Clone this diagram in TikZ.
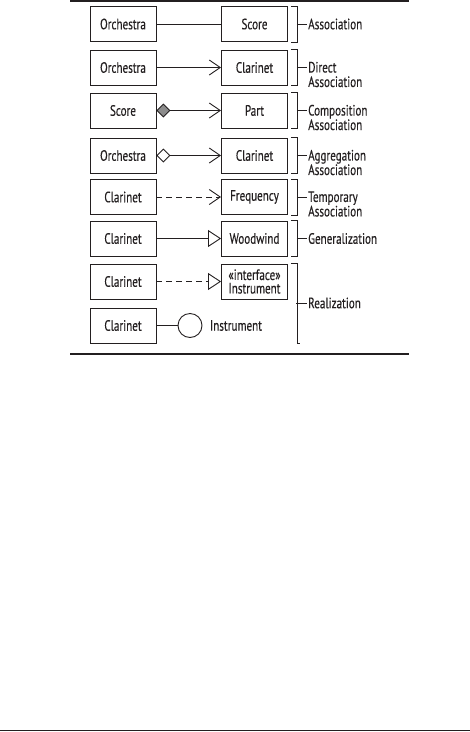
\documentclass[tikz,border=0pt]{standalone}
\usepackage{fontspec}
\usetikzlibrary{arrows.meta}
\newfontfamily\dfont{PT Sans}[FakeStretch=0.74,FakeBold=0.3]
\definecolor{ink}{HTML}{231F20}
\begin{document}
\begin{tikzpicture}[x=1pt,y=-1pt,
  every node/.style={font=\dfont\fontsize{15}{14.5}\selectfont, text=ink},
  cls/.style={draw=ink, line width=0.9pt, minimum width=66pt, minimum height=35pt, inner sep=0pt, align=center},
  conn/.style={draw=ink, line width=0.9pt},
  lbl/.style={anchor=west, align=left, inner sep=1pt},
  brk/.style={draw=ink, line width=0.9pt},
  vee/.style={-{Straight Barb[length=11pt,width=15pt,line width=0.9pt]}},
  tri/.style={-{Triangle[open,length=13pt,width=17pt,line width=0.9pt,fill=white]}},
  compvee/.style={{Diamond[length=14pt,width=14pt,fill=gray!90,line width=0.9pt]}-{Straight Barb[length=11pt,width=15pt,line width=0.9pt]}},
  aggrvee/.style={{Diamond[open,length=14pt,width=14pt,fill=white,line width=0.9pt]}-{Straight Barb[length=11pt,width=15pt,line width=0.9pt]}},
  frame/.style={draw=ink, line width=1.6pt}]
\useasboundingbox (0,0) rectangle (470,732);
% frame lines
\coordinate (ft1) at (70,1);
\coordinate (ft2) at (409,1);
\coordinate (fb1) at (70,354);
\coordinate (fb2) at (409,354);
\coordinate (pb1) at (0,730.5);
\coordinate (pb2) at (470,730.5);
\draw[frame] (ft1) -- (ft2);
\draw[frame] (fb1) -- (fb2);
\draw[frame] (pb1) -- (pb2);

% rows
\foreach \i/\y/\a/\b in {1/24/Orchestra/Score, 2/67.5/Orchestra/Clarinet, 3/110.5/Score/Part, 4/155.5/Orchestra/Clarinet, 5/197/Clarinet/Frequency, 6/238.5/Clarinet/Woodwind}{
  \node[cls] (a\i) at (123,\y) {\a};
  \node[cls] (b\i) at (254.5,\y) {\b};
}
\node[cls] (a7) at (123,281.5) {Clarinet};
\node[cls] (b7) at (254.5,281.5) {«interface»\\[-1pt]Instrument};
\node[cls] (a8) at (123,325.5) {Clarinet};
\node[draw=ink, line width=0.9pt, circle, minimum size=24pt, inner sep=0pt] (c8) at (190,325.5) {};
\node[inner sep=1pt] (t8) at (236,325.5) {Instrument};

% connectors
\draw[conn] (a1) -- (b1);
\draw[conn, vee] (a2) -- (b2);
\draw[conn, compvee] (a3) -- (b3);
\draw[conn, aggrvee] (a4) -- (b4);
\draw[conn, vee, dash pattern=on 6pt off 4pt] (a5) -- (b5);
\draw[conn, tri] (a6) -- (b6);
\draw[conn, tri, dash pattern=on 6pt off 4pt] (a7) -- (b7);
\draw[conn] (a8) -- (c8);

% brackets and labels
\foreach \i in {1,...,6}{
  \draw[brk] ([xshift=3pt]b\i.north east) -- ++(6,0) coordinate (bt\i) |- ([xshift=3pt]b\i.south east);
  \coordinate (bm\i) at ([xshift=9pt]b\i.east);
}
\node[lbl] (l1) at (307,24) {Association};
\node[lbl] (l2) at (307,74.5) {Direct\\Association};
\node[lbl] (l3) at (307,117.5) {Composition\\Association};
\node[lbl] (l4) at (307,162.5) {Aggregation\\Association};
\node[lbl] (l5) at (307,204) {Temporary\\Association};
\node[lbl] (l6) at (307,238.5) {Generalization};
\foreach \i in {1,...,6}{
  \draw[brk] (bm\i) -- (bm\i -| l\i.west);
}
\draw[brk] ([xshift=3pt]b7.north east) -- ++(6,0) coordinate (bt7) |- ([xshift=12pt]a8.south -| b7.south east) coordinate (bb7);
\coordinate (bm7) at (296,303);
\node[lbl] (l7) at (307,303) {Realization};
\draw[brk] (bm7) -- (l7.west);
\end{tikzpicture}
\end{document}
